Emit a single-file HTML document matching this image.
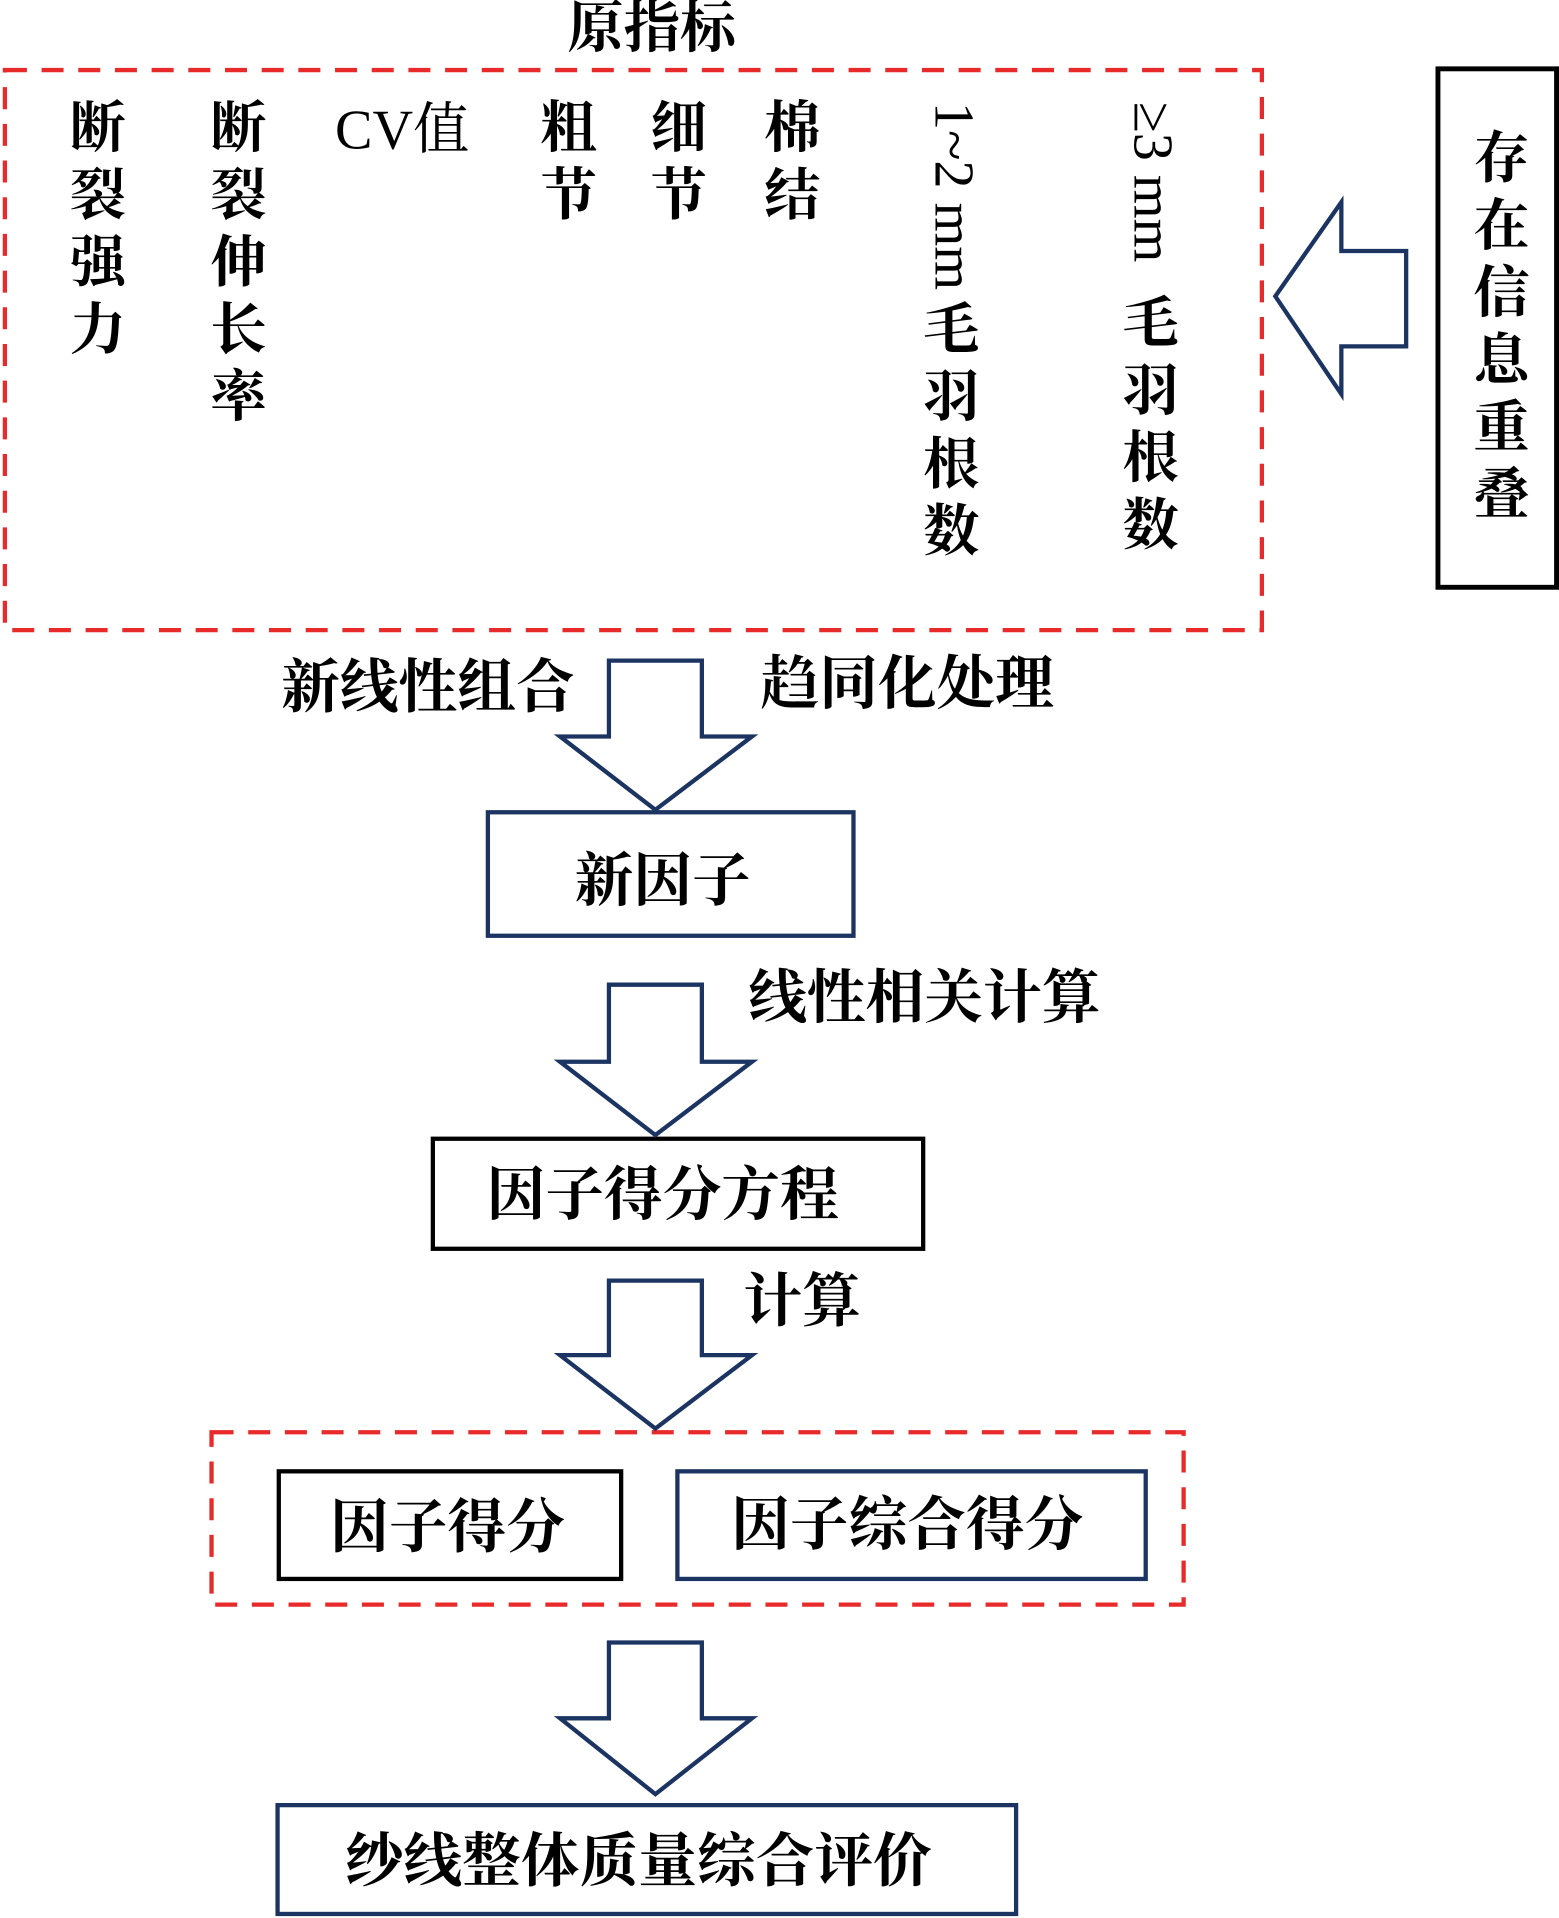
<!DOCTYPE html>
<html><head><meta charset="utf-8"><style>html,body{margin:0;padding:0;background:#fff}svg{display:block}</style></head><body>
<svg width="1559" height="1918" viewBox="0 0 1275 1568" xmlns="http://www.w3.org/2000/svg" font-family="'Liberation Serif','Noto Serif CJK SC',serif" fill="#000">
<g fill="none" stroke-width="3.5">
<rect x="4" y="57" width="1028" height="458" stroke="#e82a2a" stroke-dasharray="18,12"/>
<rect x="173" y="1171" width="795" height="141" stroke="#e82a2a" stroke-dasharray="18,12"/>
<rect x="1176" y="56" width="97" height="424" stroke="#000" stroke-width="4"/>
<rect x="399" y="664" width="299" height="101" stroke="#1c3461"/>
<rect x="354" y="931" width="401" height="90" stroke="#000"/>
<rect x="228" y="1203" width="280" height="88" stroke="#000"/>
<rect x="554" y="1203" width="383" height="88" stroke="#1c3461"/>
<rect x="227" y="1476" width="604" height="89" stroke="#1c3461"/>
<g stroke="#1c3461">
<path d="M1043,242 L1097,165 L1097,205 L1150,205 L1150,283 L1097,283 L1097,322 Z"/>
<path d="M498,540 L574,540 L574,602 L615,602 L536,662 L458,602 L498,602 Z"/>
<path d="M498,805 L574,805 L574,868 L615,868 L536,928 L458,868 L498,868 Z"/>
<path d="M498,1047 L574,1047 L574,1108 L615,1108 L536,1168 L458,1108 L498,1108 Z"/>
<path d="M498,1343 L574,1343 L574,1405 L615,1405 L536,1467 L458,1405 L498,1405 Z"/>
</g></g>
<g font-size="46" font-weight="bold">
<text x="533" y="38" text-anchor="middle">原指标</text>
<g text-anchor="middle">
<text x="80" y="120">断</text><text x="80" y="175">裂</text><text x="80" y="230">强</text><text x="80" y="285">力</text>
<text x="195" y="120">断</text><text x="195" y="175">裂</text><text x="195" y="230">伸</text><text x="195" y="285">长</text><text x="195" y="340">率</text>
<text x="465" y="120">粗</text><text x="465" y="175">节</text>
<text x="555" y="120">细</text><text x="555" y="175">节</text>
<text x="648" y="120">棉</text><text x="648" y="175">结</text>
<text x="778" y="285">毛</text><text x="778" y="340">羽</text><text x="778" y="395">根</text><text x="778" y="450">数</text>
<text x="941" y="280">毛</text><text x="941" y="335">羽</text><text x="941" y="390">根</text><text x="941" y="445">数</text>
<text x="1228" y="145">存</text><text x="1228" y="200">在</text><text x="1228" y="255">信</text><text x="1228" y="310">息</text><text x="1228" y="365">重</text><text x="1228" y="420">叠</text>
</g>
<text x="274" y="121" font-weight="normal">CV值</text>
<text transform="translate(765,83) rotate(90)" font-weight="normal">1~2 mm</text>
<text transform="translate(928,83) rotate(90)" font-weight="normal">≥3 mm</text>
</g>
<g font-size="48" font-weight="bold">
<text x="230" y="578">新线性组合</text>
<text x="622" y="575">趋同化处理</text>
<text x="612" y="832">线性相关计算</text>
<text x="608" y="1080">计算</text>
<text x="542" y="736" text-anchor="middle">新因子</text>
<text x="542" y="993" text-anchor="middle">因子得分方程</text>
<text x="366" y="1265" text-anchor="middle">因子得分</text>
<text x="742" y="1263" text-anchor="middle">因子综合得分</text>
<text x="522" y="1538" text-anchor="middle">纱线整体质量综合评价</text>
</g>
</svg>
</body></html>
